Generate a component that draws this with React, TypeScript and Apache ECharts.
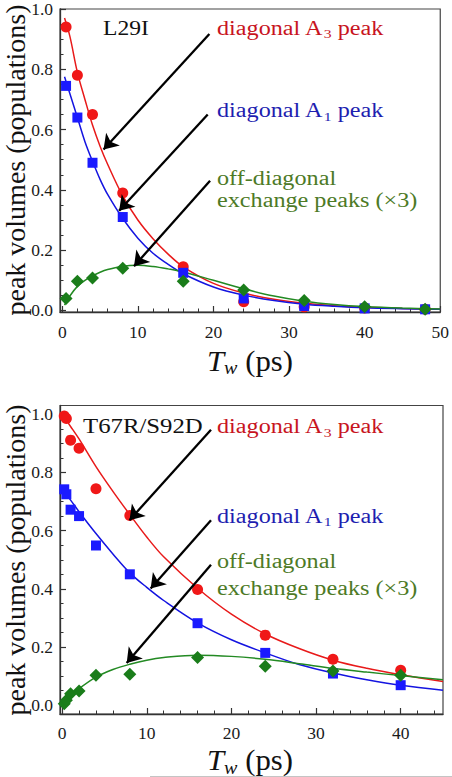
import React, { useEffect, useRef } from 'react';
import * as echarts from 'echarts';

// ---------- data: top panel (L29I) ----------
const tTop = [0.5, 2, 4, 8, 16, 24, 32, 40, 48];
const a3Top = [0.94, 0.78, 0.65, 0.39, 0.145, 0.029, 0.012, 0.008, 0.004];
const a1Top = [0.745, 0.64, 0.49, 0.31, 0.125, 0.04, 0.015, 0.007, 0.004];
const exTop = [0.04, 0.097, 0.108, 0.14, 0.097, 0.068, 0.033, 0.012, 0.004];

const fitXTop = [0.3, 1, 2, 3, 4, 5, 6, 8, 10, 12, 14, 16, 20, 24, 28, 32, 36, 40, 45, 50];
const fitA3Top = [0.97, 0.91, 0.79, 0.7, 0.615, 0.545, 0.485, 0.38, 0.3, 0.238, 0.187, 0.145, 0.09, 0.058, 0.037, 0.024, 0.016, 0.011, 0.007, 0.004];
const fitA1Top = [0.775, 0.72, 0.64, 0.56, 0.495, 0.435, 0.385, 0.305, 0.24, 0.19, 0.153, 0.122, 0.078, 0.051, 0.033, 0.021, 0.014, 0.009, 0.006, 0.004];
const fitExTop = [0.018, 0.048, 0.08, 0.1, 0.115, 0.127, 0.136, 0.147, 0.15, 0.146, 0.138, 0.128, 0.1, 0.072, 0.048, 0.031, 0.02, 0.013, 0.008, 0.005];

// ---------- data: bottom panel (T67R/S92D) ----------
const tBot = [0.25, 0.5, 1, 2, 4, 8, 16, 24, 32, 40];
const a3Bot = [0.994, 0.985, 0.911, 0.883, 0.744, 0.652, 0.398, 0.241, 0.158, 0.12];
const a1Bot = [0.742, 0.725, 0.672, 0.65, 0.549, 0.45, 0.282, 0.18, 0.109, 0.069];
const exBot = [0.005, 0.017, 0.04, 0.049, 0.103, 0.107, 0.164, 0.134, 0.118, 0.103];

const fitXBot = [0, 1, 2, 4, 6, 8, 10, 12, 16, 20, 24, 28, 32, 36, 40, 45];
const fitA3Bot = [1.0, 0.958, 0.915, 0.82, 0.735, 0.655, 0.578, 0.51, 0.402, 0.313, 0.245, 0.195, 0.155, 0.127, 0.105, 0.082];
const fitA1Bot = [0.742, 0.705, 0.665, 0.59, 0.52, 0.455, 0.405, 0.36, 0.283, 0.225, 0.18, 0.14, 0.111, 0.088, 0.069, 0.052];
const fitExBot = [0, 0.03, 0.057, 0.097, 0.123, 0.141, 0.155, 0.164, 0.172, 0.168, 0.158, 0.143, 0.127, 0.114, 0.102, 0.088];

// ---------- ticks ----------
const xMajorTop = [0, 10, 20, 30, 40, 50];
const xMinorTop = [2, 4, 6, 8, 12, 14, 16, 18, 22, 24, 26, 28, 32, 34, 36, 38, 42, 44, 46, 48];
const xMajorBot = [0, 10, 20, 30, 40];
const xMinorBot = [2, 4, 6, 8, 12, 14, 16, 18, 22, 24, 26, 28, 32, 34, 36, 38, 42, 44];
const yMajor = [0, 0.2, 0.4, 0.6, 0.8, 1.0];
const yMinor = [0.05, 0.1, 0.15, 0.25, 0.3, 0.35, 0.45, 0.5, 0.55, 0.65, 0.7, 0.75, 0.85, 0.9, 0.95];

// ---------- arrows (data coordinates: [start, end]) ----------
const arrowsTop = [
  [[19.46, 0.917], [5.46, 0.534]],
  [[19.24, 0.65], [7.52, 0.331]],
  [[19.55, 0.43], [9.49, 0.147]],
];
const arrowsBot = [
  [[17.59, 0.947], [7.96, 0.636]],
  [[17.59, 0.636], [10.46, 0.401]],
  [[17.59, 0.483], [7.63, 0.145]],
];

const FONT = 'Liberation Serif';
const RED_M = '#f01818';
const RED_L = '#e81a1a';
const RED_T = '#c8141e';
const BLUE_M = '#1a1aff';
const BLUE_L = '#1414e0';
const BLUE_T = '#1e1eb0';
const GREEN_M = '#1a7d1a';
const GREEN_L = '#238a23';
const GREEN_T = '#4d7a26';
const AX = '#333333';

const pairs = (xs: number[], ys: number[]) => xs.map((x, i) => [x, ys[i]]);

function majorX(gridIndex: number, min: number, max: number, vals: number[], margin: number) {
  return {
    type: 'value', gridIndex, min, max, position: 'bottom',
    axisLine: { show: true, onZero: false, lineStyle: { color: AX, width: 1.3 } },
    axisTick: { show: true, inside: true, length: 6, customValues: vals, lineStyle: { color: AX, width: 1.2 } },
    axisLabel: { show: true, customValues: vals, margin, fontSize: 17.5, fontFamily: FONT, color: '#1a1a1a', formatter: (v: number) => String(v) },
    splitLine: { show: false },
  };
}
function minorX(gridIndex: number, min: number, max: number, vals: number[]) {
  return {
    type: 'value', gridIndex, min, max, position: 'bottom', offset: 0,
    axisLine: { show: false, onZero: false },
    axisTick: { show: true, inside: true, length: 3.5, customValues: vals, lineStyle: { color: AX, width: 1 } },
    axisLabel: { show: false },
    splitLine: { show: false },
  };
}
function majorY(gridIndex: number, min: number, max: number) {
  return {
    type: 'value', gridIndex, min, max, position: 'left',
    axisLine: { show: true, onZero: false, lineStyle: { color: AX, width: 1.3 } },
    axisTick: { show: true, inside: true, length: 6, customValues: yMajor, lineStyle: { color: AX, width: 1.2 } },
    axisLabel: { show: true, customValues: yMajor, margin: 7, fontSize: 17.5, fontFamily: FONT, color: '#1a1a1a', formatter: (v: number) => v.toFixed(1) },
    splitLine: { show: false },
  };
}
function minorY(gridIndex: number, min: number, max: number) {
  return {
    type: 'value', gridIndex, min, max, position: 'left', offset: 0,
    axisLine: { show: false, onZero: false },
    axisTick: { show: true, inside: true, length: 3.5, customValues: yMinor, lineStyle: { color: AX, width: 1 } },
    axisLabel: { show: false },
    splitLine: { show: false },
  };
}

function fitLine(xi: number, yi: number, xs: number[], ys: number[], color: string) {
  return {
    type: 'line', xAxisIndex: xi, yAxisIndex: yi, data: pairs(xs, ys),
    smooth: 0.35, symbol: 'none', lineStyle: { color, width: 1.5 }, z: 2, silent: true,
  };
}
function pts(xi: number, yi: number, xs: number[], ys: number[], symbol: string, size: number, color: string) {
  return {
    type: 'scatter', xAxisIndex: xi, yAxisIndex: yi, data: pairs(xs, ys),
    symbol, symbolSize: size, itemStyle: { color, opacity: 1 }, z: 3, silent: true,
  };
}
function arrowSeries(xi: number, yi: number, arrows: number[][][]) {
  return {
    type: 'line', xAxisIndex: xi, yAxisIndex: yi, data: [], silent: true, z: 5,
    markLine: {
      silent: true, animation: false, symbol: ['none', 'arrow'], symbolSize: 14,
      label: { show: false },
      lineStyle: { color: '#000', width: 2.3, type: 'solid' },
      emphasis: { disabled: true },
      data: arrows.map((a) => [{ coord: a[0] }, { coord: a[1] }]),
    },
  };
}

const rich = (color: string, fs: number) => ({
  m: { fontSize: fs, fontFamily: FONT, fill: color, lineHeight: 24 },
  s: { fontSize: 13, fontFamily: FONT, fill: color, lineHeight: 15, verticalAlign: 'bottom' },
});

function label(x: number, y: number, text: string, color: string, sx = 1.21, fs = 20) {
  return {
    type: 'text', x, y, scaleX: sx, z: 10,
    style: { text, rich: rich(color, fs), fill: color, fontSize: fs, fontFamily: FONT, verticalAlign: 'middle', align: 'left' },
  };
}
function xTitle(x: number, y: number) {
  return {
    type: 'text', x, y, scaleX: 1.06, z: 10,
    style: {
      text: '{i|T}{s|w}{m| (ps)}', align: 'center', verticalAlign: 'middle', fill: '#111',
      rich: {
        i: { fontSize: 29, fontFamily: FONT, fontStyle: 'italic', fill: '#111', lineHeight: 34 },
        s: { fontSize: 19, fontFamily: FONT, fontStyle: 'italic', fill: '#111', lineHeight: 22, verticalAlign: 'bottom' },
        m: { fontSize: 29, fontFamily: FONT, fill: '#111', lineHeight: 34 },
      },
    },
  };
}
function yTitle(x: number, y: number) {
  return {
    type: 'text', x, y, rotation: Math.PI / 2, z: 10,
    style: { text: 'peak volumes (populations)', fontSize: 28, fontFamily: FONT, fill: '#111', align: 'center', verticalAlign: 'middle' },
  };
}

export default function App() {
  const ref = useRef<HTMLDivElement>(null);
  useEffect(() => {
    if (!ref.current) return;
    const chart = echarts.init(ref.current, undefined, { renderer: 'svg' });
    const option: any = {
      animation: false,
      backgroundColor: '#ffffff',
      textStyle: { fontFamily: FONT },
      grid: [
        { left: 60, top: 7, width: 383, height: 305, show: true, borderColor: '#444', borderWidth: 1.2, backgroundColor: 'transparent' },
        { left: 60, top: 405.5, width: 383, height: 308.5, show: true, borderColor: '#444', borderWidth: 1.2, backgroundColor: 'transparent' },
      ],
      xAxis: [
        majorX(0, -0.3, 50, xMajorTop, 11),
        minorX(0, -0.3, 50, xMinorTop),
        majorX(1, -0.25, 45, xMajorBot, 10),
        minorX(1, -0.25, 45, xMinorBot),
      ],
      yAxis: [
        majorY(0, -0.005, 1.0),
        minorY(0, -0.005, 1.0),
        majorY(1, -0.03, 1.03),
        minorY(1, -0.03, 1.03),
      ],
      series: [
        fitLine(0, 0, fitXTop, fitA3Top, RED_L),
        fitLine(0, 0, fitXTop, fitA1Top, BLUE_L),
        fitLine(0, 0, fitXTop, fitExTop, GREEN_L),
        pts(0, 0, tTop, a3Top, 'circle', 11, RED_M),
        pts(0, 0, tTop, a1Top, 'rect', 10, BLUE_M),
        pts(0, 0, tTop, exTop, 'diamond', 13, GREEN_M),
        arrowSeries(0, 0, arrowsTop),
        fitLine(2, 2, fitXBot, fitA3Bot, RED_L),
        fitLine(2, 2, fitXBot, fitA1Bot, BLUE_L),
        fitLine(2, 2, fitXBot, fitExBot, GREEN_L),
        pts(2, 2, tBot, a3Bot, 'circle', 11, RED_M),
        pts(2, 2, tBot, a1Bot, 'rect', 10, BLUE_M),
        pts(2, 2, tBot, exBot, 'diamond', 13, GREEN_M),
        arrowSeries(2, 2, arrowsBot),
      ],
      graphic: [
        label(103, 28, '{m|L29I}', '#111', 1.15, 20.5),
        label(217, 28, '{m|diagonal A}{s|3}{m| peak}', RED_T),
        label(217, 110.5, '{m|diagonal A}{s|1}{m| peak}', BLUE_T),
        label(217, 178.5, '{m|off-diagonal}', GREEN_T),
        label(217, 200, '{m|exchange peaks (×3)}', GREEN_T),
        label(83, 426, '{m|T67R/S92D}', '#111', 1.18, 21),
        label(217, 426.5, '{m|diagonal A}{s|3}{m| peak}', RED_T),
        label(217, 516, '{m|diagonal A}{s|1}{m| peak}', BLUE_T),
        label(217, 561.5, '{m|off-diagonal}', GREEN_T),
        label(217, 588, '{m|exchange peaks (×3)}', GREEN_T),
        xTitle(250, 360.5),
        xTitle(250, 760),
        yTitle(15.5, 160),
        yTitle(15.5, 560),
        { type: 'line', shape: { x1: 150, y1: 776.5, x2: 452, y2: 776.5 }, style: { stroke: '#c4c4c4', lineWidth: 1 } },
      ],
    };
    chart.setOption(option);
    return () => chart.dispose();
  }, []);
  return <div ref={ref} style={{ position: 'fixed', left: 0, top: 0, width: 452, height: 777 }} />;
}
